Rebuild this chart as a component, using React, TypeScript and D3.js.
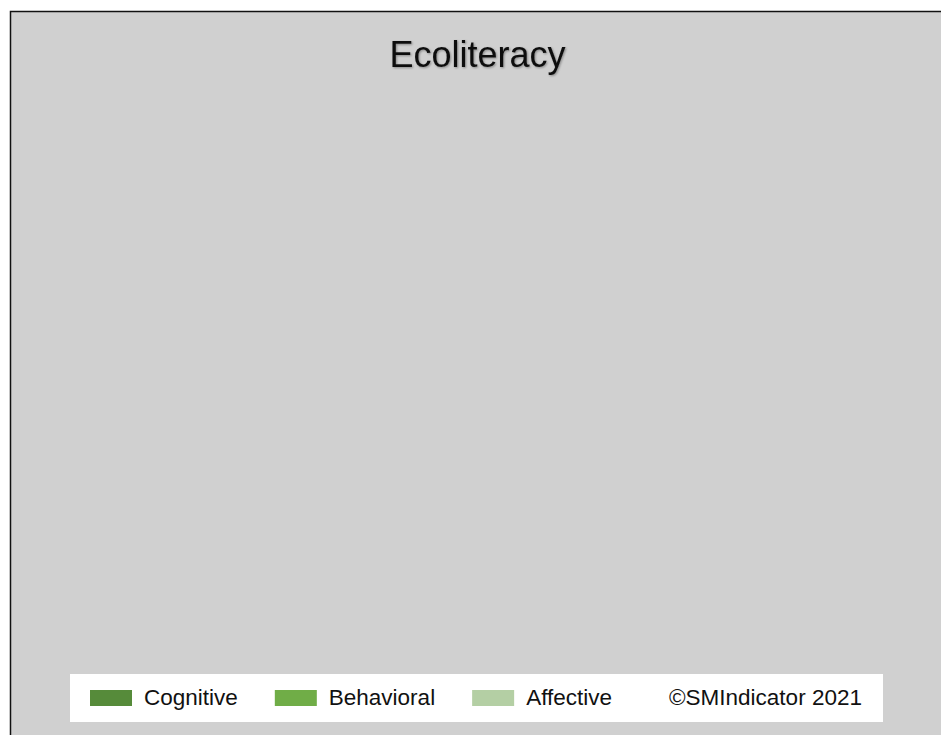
import React, { useEffect, useRef } from "react";
import * as d3 from "d3";

// Legend series (no data points are visible in the chart area)
const categories = ["Cognitive", "Behavioral", "Affective"];
const seriesColors = ["#568b3a", "#70ad47", "#b4cfa4"];
const chartTitle = "Ecoliteracy";
const credit = "©SMIndicator 2021";

const App: React.FC = () => {
  const svgRef = useRef<SVGSVGElement>(null);

  useEffect(() => {
    if (!svgRef.current) return;
    document.body.style.margin = "0";

    const width = 941;
    const height = 735;
    const font = "'Liberation Sans', Arial, sans-serif";

    const svg = d3.select(svgRef.current);
    svg.selectAll("*").remove();
    svg.attr("width", width).attr("height", height);

    // Page background + framed plot area
    svg.append("rect").attr("width", width).attr("height", height).attr("fill", "#ffffff");
    svg
      .append("rect")
      .attr("x", 10.5)
      .attr("y", 11.5)
      .attr("width", width + 20)
      .attr("height", height + 20)
      .attr("fill", "#d0d0d0")
      .attr("stroke", "#111")
      .attr("stroke-width", 1.5);

    // Title with a soft shadow
    const defs = svg.append("defs");
    const filter = defs.append("filter").attr("id", "tshadow").attr("x", "-10%").attr("y", "-10%").attr("width", "120%").attr("height", "140%");
    filter
      .append("feDropShadow")
      .attr("dx", 1)
      .attr("dy", 1)
      .attr("stdDeviation", 0.8)
      .attr("flood-color", "#000")
      .attr("flood-opacity", 0.35);

    svg
      .append("text")
      .attr("x", 477.5)
      .attr("y", 67)
      .attr("text-anchor", "middle")
      .attr("font-family", font)
      .attr("font-size", 36)
      .attr("fill", "#111")
      .attr("filter", "url(#tshadow)")
      .text(chartTitle);

    // Legend
    const color = d3.scaleOrdinal<string, string>().domain(categories).range(seriesColors);
    const legendBox = { x: 70, y: 674, w: 813, h: 48 };
    svg
      .append("rect")
      .attr("x", legendBox.x)
      .attr("y", legendBox.y)
      .attr("width", legendBox.w)
      .attr("height", legendBox.h)
      .attr("fill", "#ffffff");

    const fontSize = 22.5;
    const swW = 42;
    const swH = 16;
    const itemGap = 37;
    const baseY = 705;
    let cx = 90;

    categories.forEach((c) => {
      svg
        .append("rect")
        .attr("x", cx)
        .attr("y", 690)
        .attr("width", swW)
        .attr("height", swH)
        .attr("fill", color(c));
      const t = svg
        .append("text")
        .attr("x", cx + swW + 12)
        .attr("y", baseY)
        .attr("font-family", font)
        .attr("font-size", fontSize)
        .attr("fill", "#111")
        .text(c);
      const tw = (t.node() as SVGTextElement).getComputedTextLength();
      cx = cx + swW + 12 + tw + itemGap;
    });

    svg
      .append("text")
      .attr("x", 669)
      .attr("y", baseY)
      .attr("font-family", font)
      .attr("font-size", fontSize)
      .attr("fill", "#111")
      .text(credit);
  }, []);

  return <svg ref={svgRef} style={{ display: "block" }} />;
};

export default App;
